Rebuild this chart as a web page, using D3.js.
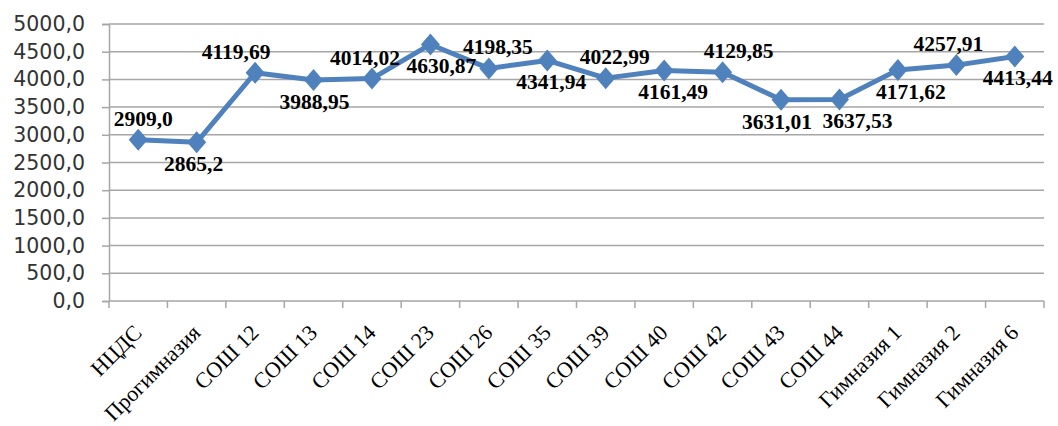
<!DOCTYPE html>
<html lang="ru">
<head>
  <meta charset="UTF-8">
  <title>Chart</title>
  <script src="https://d3js.org/d3.v7.min.js"></script>
  <style>
    body { margin: 0; background: white; }
    .ytick { font-family: "DejaVu Sans", Verdana, sans-serif; font-size: 20.5px; fill: #333; }
    .xtick { font-family: "Liberation Serif", "Times New Roman", serif; font-size: 22px; fill: #000; }
    .vlabel { font-family: "Liberation Serif", "Times New Roman", serif; font-size: 21.5px; font-weight: bold; fill: #000; }
  </style>
</head>
<body>
  <svg width="1058" height="426"></svg>
  <script>
    const categories = ["НЦДС", "Прогимназия", "СОШ 12", "СОШ 13", "СОШ 14", "СОШ 23", "СОШ 26", "СОШ 35",
      "СОШ 39", "СОШ 40", "СОШ 42", "СОШ 43", "СОШ 44", "Гимназия 1", "Гимназия 2", "Гимназия 6"];
    const values = [2909.0, 2865.2, 4119.69, 3988.95, 4014.02, 4630.87, 4198.35, 4341.94,
      4022.99, 4161.49, 4129.85, 3631.01, 3637.53, 4171.62, 4257.91, 4413.44];
    const labelText = ["2909,0", "2865,2", "4119,69", "3988,95", "4014,02", "4630,87", "4198,35", "4341,94",
      "4022,99", "4161,49", "4129,85", "3631,01", "3637,53", "4171,62", "4257,91", "4413,44"];
    const yTicks = [0, 500, 1000, 1500, 2000, 2500, 3000, 3500, 4000, 4500, 5000];

    // where each data label sits: above or below the point, plus a small horizontal nudge
    const labelSide = ["a", "b", "a", "b", "a", "b", "a", "b", "a", "b", "a", "b", "b", "b", "a", "b"];
    const labelNudge = [5, -3, -19, 1, -7, 11, 9, 4, 9, 9, 16, -4, 18, 13, -8, 3];

    const plotL = 109, plotR = 1044, plotT = 24, plotB = 301;
    const svg = d3.select("svg");

    const x = d3.scaleBand().domain(categories).range([plotL, plotR]);
    const y = d3.scaleLinear().domain([0, 5000]).range([plotB, plotT]);

    // gridlines
    svg.append("g").selectAll("line")
      .data(yTicks.filter(d => d > 0))
      .enter().append("line")
      .attr("x1", plotL).attr("x2", plotR)
      .attr("y1", d => y(d)).attr("y2", d => y(d))
      .attr("stroke", "#a6a6a6").attr("stroke-width", 1.5);

    // y axis
    const yAxis = svg.append("g")
      .attr("transform", `translate(${plotL},0)`)
      .call(d3.axisLeft(y).tickValues(yTicks).tickSize(7).tickPadding(17)
        .tickFormat(d => d3.format(".1f")(d).replace(".", ",")));
    yAxis.attr("font-size", null).attr("font-family", null);
    yAxis.select(".domain").attr("stroke", "#a6a6a6").attr("stroke-width", 1.5);
    yAxis.selectAll(".tick line").attr("stroke", "#a6a6a6").attr("stroke-width", 1.5);
    yAxis.selectAll(".tick text").attr("class", "ytick").attr("fill", null);

    // x axis line and boundary ticks
    const xAxis = svg.append("g");
    xAxis.append("line")
      .attr("x1", plotL).attr("x2", plotR).attr("y1", plotB).attr("y2", plotB)
      .attr("stroke", "#a6a6a6").attr("stroke-width", 1.5);
    const bounds = categories.map(c => x(c)).concat([x.range()[1]]);
    xAxis.selectAll(".bt").data(bounds).enter().append("line")
      .attr("x1", d => d).attr("x2", d => d)
      .attr("y1", plotB).attr("y2", plotB + 7)
      .attr("stroke", "#a6a6a6").attr("stroke-width", 1.5);

    const cx = c => x(c) + x.bandwidth() / 2;

    xAxis.selectAll(".xtick").data(categories).enter().append("text")
      .attr("class", "xtick")
      .attr("text-anchor", "end")
      .attr("transform", c => `translate(${cx(c) + 5},${plotB + 33}) rotate(-45)`)
      .text(c => c);

    // line
    const line = d3.line().x((d, i) => cx(categories[i])).y(d => y(d));
    svg.append("path")
      .datum(values)
      .attr("d", line)
      .attr("fill", "none")
      .attr("stroke", "#4f81bd")
      .attr("stroke-width", 5)
      .attr("stroke-linejoin", "round");

    // diamond markers
    svg.selectAll(".mk").data(values).enter().append("path")
      .attr("d", "M0,-11L9.5,0L0,11L-9.5,0Z")
      .attr("transform", (d, i) => `translate(${cx(categories[i])},${y(d)})`)
      .attr("fill", "#4f81bd");

    // data labels
    svg.selectAll(".vlabel").data(values).enter().append("text")
      .attr("class", "vlabel")
      .attr("text-anchor", "middle")
      .attr("x", (d, i) => cx(categories[i]) + labelNudge[i])
      .attr("y", (d, i) => y(d) + (labelSide[i] === "a" ? -14 : 29))
      .text((d, i) => labelText[i]);
  </script>
</body>
</html>
